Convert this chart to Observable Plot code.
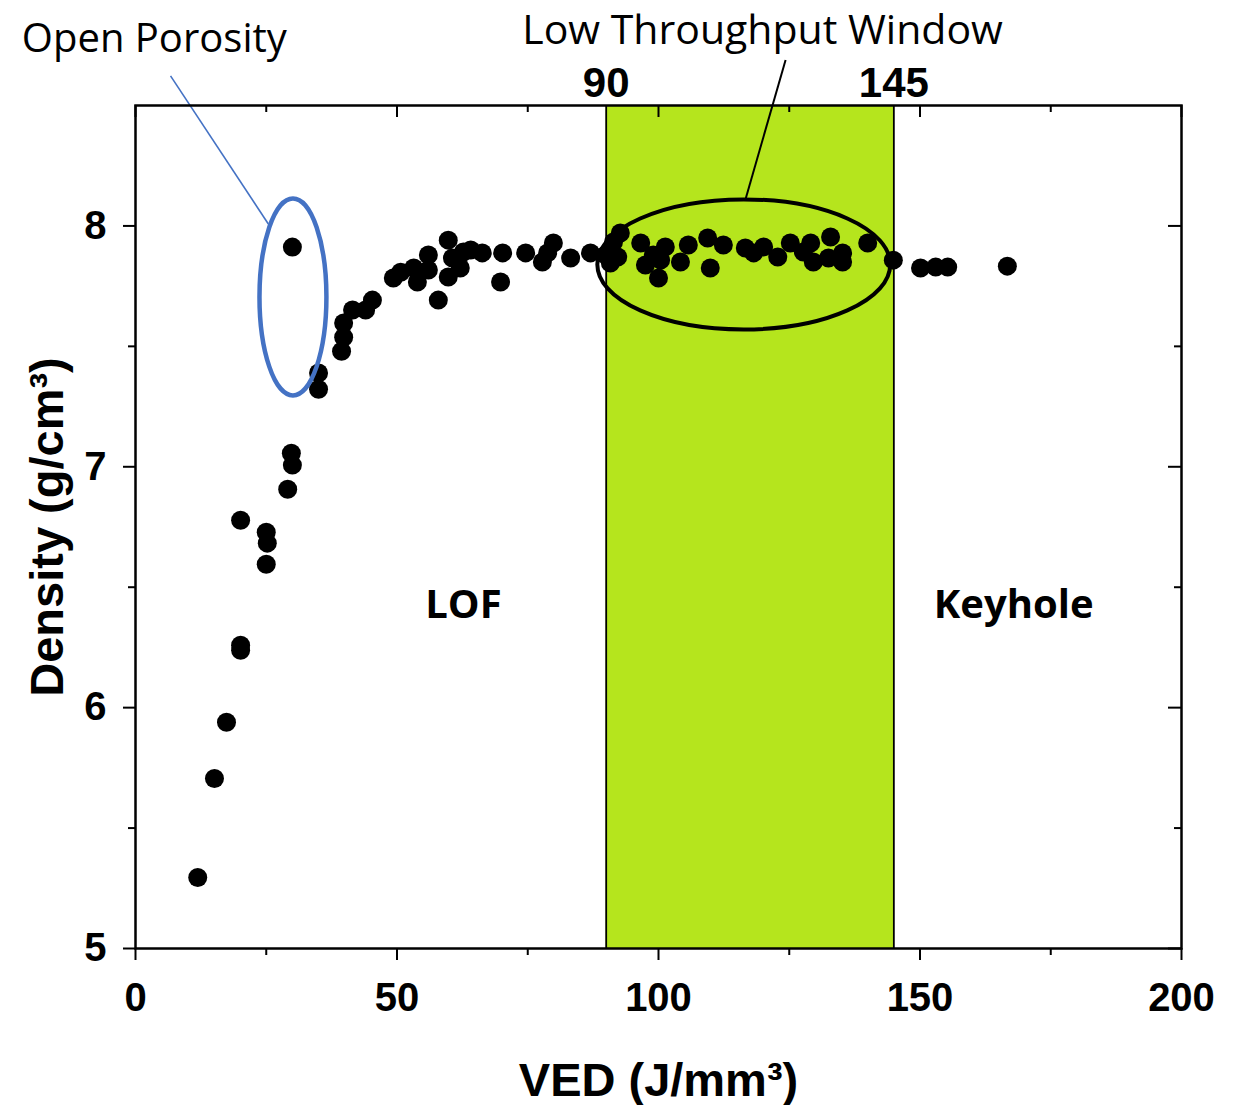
<!DOCTYPE html>
<html>
<head>
<meta charset="utf-8">
<script src="https://cdn.jsdelivr.net/npm/d3@7"></script>
<script src="https://cdn.jsdelivr.net/npm/@observablehq/plot@0.6"></script>
<style>
  html, body { margin: 0; padding: 0; background: #fff; }
  #chart svg { display: block; overflow: visible; }
</style>
</head>
<body>
<div id="chart"></div>
<script>
// VED (J/mm^3) and density (g/cm^3)
const ved = [11.9, 15.1, 17.4, 20.1, 20.1, 20.1, 25.0, 25.2, 25.0, 29.1, 29.8, 30.0, 30.0,
  35.0, 35.0, 39.4, 39.8, 39.8, 41.5, 44.0, 45.3, 49.3, 50.7, 53.2, 53.9, 56.0, 56.0, 57.9,
  59.8, 60.6, 59.8, 62.1, 62.7, 64.1, 66.3, 70.2, 69.8, 74.6, 77.8, 79.9, 78.8, 83.2, 87.0,
  89.9, 90.8, 91.4, 92.7, 92.2, 96.6, 97.5, 99.0, 100.0, 101.3, 100.4, 104.2, 105.7, 109.4,
  109.9, 112.4, 116.6, 118.2, 120.1, 122.8, 125.2, 127.7, 129.1, 129.6, 132.9, 132.5, 135.2,
  135.2, 140.0, 144.9, 150.1, 153.0, 155.3, 166.7];
const density = [5.295, 5.706, 5.939, 6.259, 6.238, 6.778, 6.728, 6.683, 6.595, 6.907, 7.056, 7.007, 7.912,
  7.389, 7.322, 7.480, 7.538, 7.597, 7.651, 7.651, 7.692, 7.784, 7.808, 7.825, 7.767, 7.879, 7.817, 7.692,
  7.941, 7.867, 7.788, 7.825, 7.892, 7.900, 7.888, 7.888, 7.767, 7.888, 7.850, 7.929, 7.888, 7.867, 7.888,
  7.879, 7.846, 7.933, 7.971, 7.871, 7.929, 7.838, 7.879, 7.784, 7.913, 7.858, 7.850, 7.921, 7.950,
  7.825, 7.921, 7.908, 7.888, 7.913, 7.871, 7.929, 7.892, 7.929, 7.850, 7.954, 7.867, 7.888,
  7.850, 7.929, 7.858, 7.825, 7.829, 7.829, 7.833];

const xMajor = [0, 50, 100, 150, 200];
const xMinor = [25, 75, 125, 175];
const yMajor = [5, 6, 7, 8];
const yMinor = [5.5, 6.5, 7.5];
const windowBounds = [90, 145];
const windowLabels = ["90", "145"];
const regionLabels = ["LOF", "Keyhole"];
const regionX = [62.7, 167.9];
const regionY = 6.425;

// annotation ellipses: centre and half-axes in data units
const ellipses = [
  {cx: 30.2, cy: 7.703, rx: 6.4, ry: 0.409, stroke: "#4472C4", width: 4.5},
  {cx: 116.4, cy: 7.838, rx: 28.0, ry: 0.27, stroke: "#000", width: 4}
];
const leaders = [
  {x1: 6.7, y1: 8.623, x2: 25.4, y2: 8.008, stroke: "#4472C4", width: 1.6},
  {x1: 124.3, y1: 8.689, x2: 116.6, y2: 8.108, stroke: "#000", width: 2}
];
const notes = [
  {text: "Open Porosity", x: 3.6, y: 8.723, size: 40},
  {text: "Low Throughput Window", x: 119.9, y: 8.756, size: 41}
];

const points = ved.map((v, i) => ({v, d: density[i]}));
const plotH = 1105 - 105 - 157;
const plotW = 1238 - 135 - 57;

function ellipseMark(e) {
  return (index, scales) => {
    const ns = "http://www.w3.org/2000/svg";
    const el = document.createElementNS(ns, "ellipse");
    const cx = scales.x(e.cx), cy = scales.y(e.cy);
    el.setAttribute("cx", cx);
    el.setAttribute("cy", cy);
    el.setAttribute("rx", Math.abs(scales.x(e.cx + e.rx) - cx));
    el.setAttribute("ry", Math.abs(scales.y(e.cy + e.ry) - cy));
    el.setAttribute("fill", "none");
    el.setAttribute("stroke", e.stroke);
    el.setAttribute("stroke-width", e.width);
    return el;
  };
}

const bold = "Liberation Sans, Arial, sans-serif";
const sans = "Open Sans, Lato, sans-serif";

const chart = Plot.plot({
  width: 1238,
  height: 1105,
  marginLeft: 135,
  marginRight: 57,
  marginTop: 105,
  marginBottom: 157,
  x: {domain: [0, 200]},
  y: {domain: [5, 8.5]},
  style: {fontFamily: bold, background: "white", color: "black", overflow: "visible"},
  marks: [
    Plot.rect([windowBounds], {x1: d => d[0], x2: d => d[1], y1: 5, y2: 8.5, fill: "#b5e51d"}),
    Plot.ruleX(windowBounds, {x: d => d, y1: 5, y2: 8.5, stroke: "black", strokeWidth: 1.8}),
    Plot.dot(points, {x: "v", y: "d", r: 9.5, fill: "black", stroke: "none"}),
    ...ellipses.map(ellipseMark),
    Plot.link(leaders, {x1: "x1", y1: "y1", x2: "x2", y2: "y2", stroke: "stroke", strokeWidth: "width"}),
    Plot.frame({stroke: "black", strokeWidth: 2.5}),
    // inward ticks on top and right
    Plot.tickX(xMajor, {x: d => d, insetBottom: plotH - 12, stroke: "black", strokeWidth: 2}),
    Plot.tickX(xMinor, {x: d => d, insetBottom: plotH - 7, stroke: "black", strokeWidth: 2}),
    Plot.tickY(yMajor, {y: d => d, insetLeft: plotW - 13, stroke: "black", strokeWidth: 2}),
    Plot.tickY(yMinor, {y: d => d, insetLeft: plotW - 7, stroke: "black", strokeWidth: 2}),
    // outward axes
    Plot.axisX({ticks: xMajor, tickSize: 12, tickPadding: 22, strokeWidth: 2, fontSize: 40, fontWeight: "bold", label: null, tickFormat: d => String(d)}),
    Plot.axisX({ticks: xMinor, tickSize: 7, strokeWidth: 2, label: null, tickFormat: () => ""}),
    Plot.axisY({ticks: yMajor, tickSize: 12, tickPadding: 17, strokeWidth: 2, fontSize: 40, fontWeight: "bold", label: null, tickFormat: d => String(d)}),
    Plot.axisY({ticks: yMinor, tickSize: 7, strokeWidth: 2, label: null, tickFormat: () => ""}),
    // axis titles
    Plot.text(["VED (J/mm³)"], {frameAnchor: "bottom", lineAnchor: "bottom", dy: 147, fontSize: 47, fontWeight: "bold", fontFamily: bold}),
    Plot.text(["Density (g/cm³)"], {frameAnchor: "left", textAnchor: "middle", lineAnchor: "bottom", rotate: -90, dx: -73, fontSize: 47, fontWeight: "bold", fontFamily: bold}),
    // window limits
    Plot.text(windowBounds, {x: d => d, y: 8.5, text: (d, i) => windowLabels[i], lineAnchor: "bottom", dy: -9, fontSize: 42, fontWeight: "bold", fontFamily: bold}),
    // region labels
    Plot.text(regionLabels, {x: (d, i) => regionX[i], y: regionY, text: d => d, fontSize: 40, fontWeight: "bold", fontFamily: sans}),
    // annotation labels
    Plot.text(notes, {x: "x", y: "y", text: "text", lineAnchor: "bottom", fontSize: "size", fontFamily: sans})
  ]
});
document.getElementById("chart").appendChild(chart);
</script>
</body>
</html>
